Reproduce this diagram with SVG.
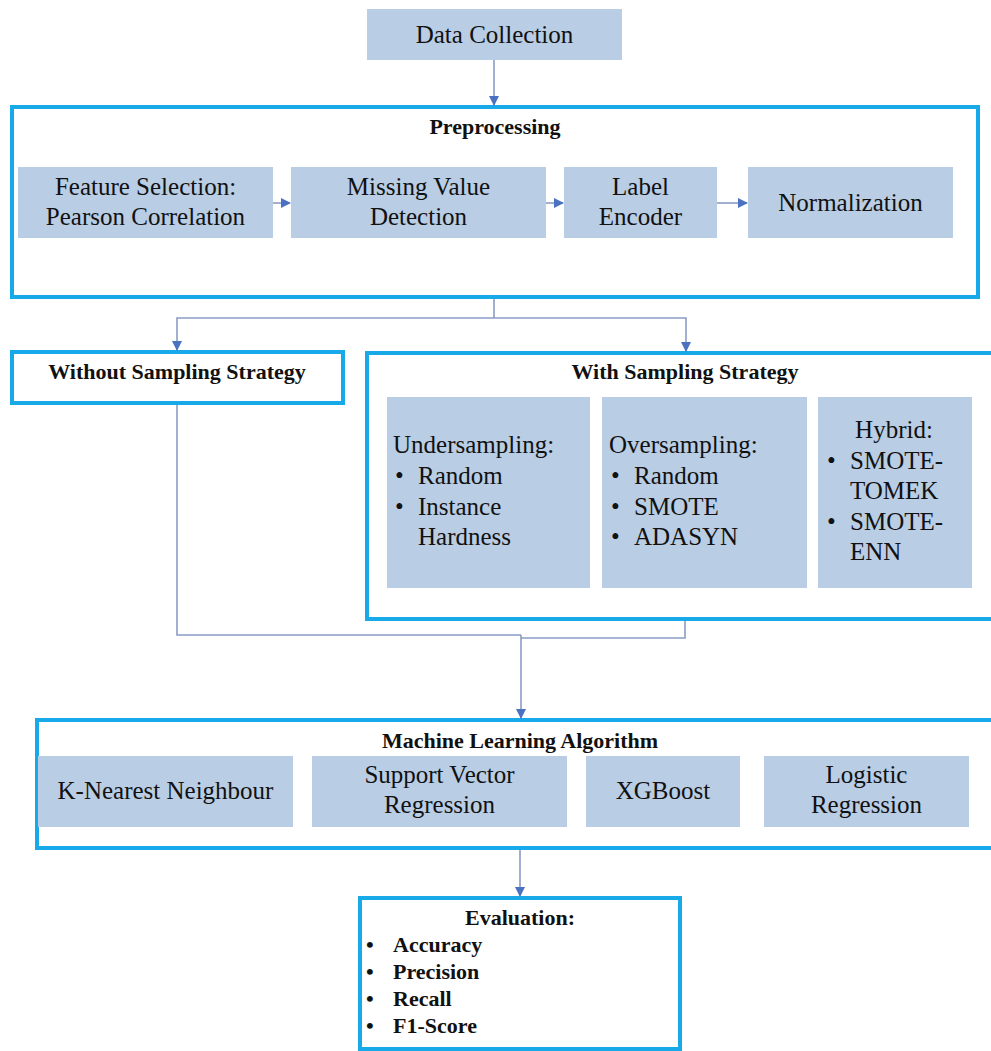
<svg xmlns="http://www.w3.org/2000/svg" width="991" height="1051" viewBox="0 0 991 1051">
<defs>
<style>
.frame{fill:#ffffff;stroke:#17a9e8;stroke-width:4}
.box{fill:#b9cde5;stroke:none}
.t{font-family:"Liberation Serif","Times New Roman",Times,"DejaVu Serif",serif;font-size:25px;font-weight:normal;fill:#111111}
.c{text-anchor:middle}
.b{font-family:"Liberation Serif","Times New Roman",Times,"DejaVu Serif",serif;font-size:22px;font-weight:bold;fill:#111111}
.e{font-family:"Liberation Serif","Times New Roman",Times,"DejaVu Serif",serif;font-size:22px;font-weight:bold;fill:#111111}
.ln{fill:none;stroke:#8a9cc6;stroke-width:1.6}
.arr{fill:none;stroke:#8a9cc6;stroke-width:1.6;marker-end:url(#ah)}
</style>
<marker id="ah" markerWidth="10" markerHeight="10" refX="9" refY="5" orient="auto" markerUnits="userSpaceOnUse">
<path d="M0,0 L10,5 L0,10 Z" fill="#4a72c0"/>
</marker>
</defs>
<rect width="991" height="1051" fill="#ffffff"/>

<g id="data-collection">
<rect class="box" x="367" y="9" width="255" height="51"/>
<text class="t c" x="494.5" y="43">Data Collection</text>
</g>

<g id="preprocessing">
<rect class="frame" x="12" y="107" width="966" height="190"/>
<text class="b c" x="495" y="134">Preprocessing</text>
</g>
<g id="feature-selection">
<rect class="box" x="18" y="167" width="255" height="71"/>
<text class="t c" x="145.5" y="195">Feature Selection:</text>
<text class="t c" x="145.5" y="225">Pearson Correlation</text>
</g>
<g id="missing-value">
<rect class="box" x="291" y="167" width="255" height="71"/>
<text class="t c" x="418.5" y="195">Missing Value</text>
<text class="t c" x="418.5" y="225">Detection</text>
</g>
<g id="label-encoder">
<rect class="box" x="564" y="167" width="153" height="71"/>
<text class="t c" x="640.5" y="195">Label</text>
<text class="t c" x="640.5" y="225">Encoder</text>
</g>
<g id="normalization">
<rect class="box" x="748" y="167" width="205" height="71"/>
<text class="t c" x="850.5" y="211">Normalization</text>
</g>

<g id="without-sampling">
<rect class="frame" x="12" y="352" width="331" height="51"/>
<text class="b c" x="177" y="379">Without Sampling Strategy</text>
</g>

<g id="with-sampling">
<rect class="frame" x="367" y="353" width="630" height="266"/>
<text class="b c" x="685" y="379">With Sampling Strategy</text>
</g>
<g id="undersampling">
<rect class="box" x="387" y="397" width="203" height="191"/>
<text class="t" x="393" y="453">Undersampling:</text>
<text class="t" x="395" y="484">•</text><text class="t" x="418" y="484">Random</text>
<text class="t" x="395" y="515">•</text><text class="t" x="418" y="515">Instance</text>
<text class="t" x="418" y="545">Hardness</text>
</g>
<g id="oversampling">
<rect class="box" x="602" y="397" width="205" height="191"/>
<text class="t" x="609" y="453">Oversampling:</text>
<text class="t" x="611" y="484">•</text><text class="t" x="634" y="484">Random</text>
<text class="t" x="611" y="515">•</text><text class="t" x="634" y="515">SMOTE</text>
<text class="t" x="611" y="545">•</text><text class="t" x="634" y="545">ADASYN</text>
</g>
<g id="hybrid">
<rect class="box" x="818" y="397" width="154" height="191"/>
<text class="t c" x="894" y="438">Hybrid:</text>
<text class="t" x="827" y="469">•</text><text class="t" x="850" y="469">SMOTE-</text>
<text class="t" x="850" y="499">TOMEK</text>
<text class="t" x="827" y="530">•</text><text class="t" x="850" y="530">SMOTE-</text>
<text class="t" x="850" y="560">ENN</text>
</g>

<g id="ml-algorithm">
<rect class="frame" x="37" y="720" width="960" height="128"/>
<text class="b c" x="520" y="748">Machine Learning Algorithm</text>
</g>
<g id="knn">
<rect class="box" x="38" y="756" width="255" height="71"/>
<text class="t c" x="165.5" y="799">K-Nearest Neighbour</text>
</g>
<g id="svr">
<rect class="box" x="312" y="756" width="255" height="71"/>
<text class="t c" x="439.5" y="783">Support Vector</text>
<text class="t c" x="439.5" y="813">Regression</text>
</g>
<g id="xgboost">
<rect class="box" x="586" y="756" width="154" height="71"/>
<text class="t c" x="663" y="799">XGBoost</text>
</g>
<g id="logistic">
<rect class="box" x="764" y="756" width="205" height="71"/>
<text class="t c" x="866.5" y="783">Logistic</text>
<text class="t c" x="866.5" y="813">Regression</text>
</g>

<g id="evaluation">
<rect class="frame" x="360" y="898" width="320" height="151"/>
<text class="e c" x="520" y="925">Evaluation:</text>
<text class="e" x="366" y="952">•</text><text class="e" x="393" y="952">Accuracy</text>
<text class="e" x="366" y="979">•</text><text class="e" x="393" y="979">Precision</text>
<text class="e" x="366" y="1006">•</text><text class="e" x="393" y="1006">Recall</text>
<text class="e" x="366" y="1033">•</text><text class="e" x="393" y="1033">F1-Score</text>
</g>

<g id="connectors">
<line class="arr" x1="494" y1="60" x2="494" y2="105"/>
<line class="arr" x1="273" y1="203" x2="290" y2="203"/>
<line class="arr" x1="546" y1="203" x2="563" y2="203"/>
<line class="arr" x1="717" y1="203" x2="747" y2="203"/>
<polyline class="ln" points="494,299 494,318"/>
<polyline class="arr" points="494,318 177,318 177,350"/>
<polyline class="arr" points="494,318 686,318 686,351"/>
<polyline class="ln" points="177,405 177,635 521,635"/>
<polyline class="ln" points="685,621 685,638 521,638"/>
<line class="arr" x1="521" y1="635" x2="521" y2="718"/>
<line class="arr" x1="520" y1="850" x2="520" y2="896"/>
</g>
</svg>
